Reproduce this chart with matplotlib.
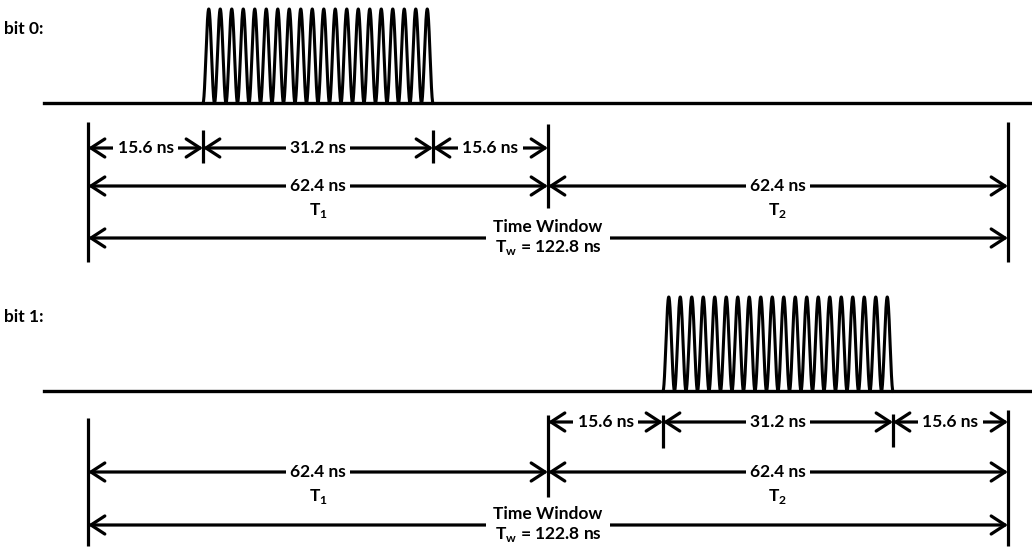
import numpy as np
import matplotlib.pyplot as plt

plt.rcParams['font.family'] = ['Lato', 'DejaVu Sans']
plt.rcParams['mathtext.fontset'] = 'custom'
plt.rcParams['mathtext.rm'] = 'Lato'
plt.rcParams['mathtext.bf'] = 'Lato:bold'

# timing values (ns)
guard_ns = 15.6
pulse_ns = 31.2
half_ns = [62.4, 62.4]
window_label = "122.8"
n_cycles = 20
bits = ["bit 0:", "bit 1:"]

# pixel scale used for horizontal placement: t=0 at x=88 px, 7.372 px per ns
px0, px_per_ns = 88.0, 460.0 / 62.4

fig = plt.figure(figsize=(10.32, 5.5), dpi=100)
ax = fig.add_axes([0, 0, 1, 1])
ax.set_xlim(-px0 / px_per_ns, (1032 - px0) / px_per_ns)
ax.set_ylim(550, 0)
ax.axis('off')

LW = 2.3
FS = 12.5
t_split = half_ns[0]
t_end = half_ns[0] + half_ns[1]

def dim(t0, t1, y, label, lx=None):
    ax.annotate('', xy=(t1, y), xytext=(t0, y),
                arrowprops=dict(arrowstyle='<->,head_length=1.0,head_width=0.65',
                                lw=LW, color='black', shrinkA=0, shrinkB=0,
                                mutation_scale=10))
    if label:
        cx = (t0 + t1) / 2 if lx is None else lx
        ax.text(cx, y, label, ha='center', va='center', fontsize=FS,
                fontweight='bold', zorder=5,
                bbox=dict(fc='white', ec='none', pad=3))

def vline(t, y0, y1):
    ax.plot([t, t], [y0, y1], color='black', lw=LW, solid_capstyle='butt')

def pulse(start, base, height):
    t = np.linspace(start, start + pulse_ns, 4000)
    y = base - height * (1 - np.cos(2 * np.pi * n_cycles * (t - start) / pulse_ns)) / 2
    ax.plot(t, y, color='black', lw=2.2)

layouts = [
    # baseline, row1, row2, T label, Tw arrow, pulse start
    dict(base=103, r1=148, r2=186, tl=211, tw=238, start=guard_ns,
         ticks=[(0, 122, 262), (t_split, 124, 208), (t_end, 122, 262),
                (guard_ns, 130, 163), (guard_ns + pulse_ns, 130, 163)]),
    dict(base=391, r1=422, r2=472, tl=497, tw=525, start=t_split + guard_ns,
         ticks=[(0, 418, 546), (t_split, 415, 497), (t_end, 410, 546),
                (t_split + guard_ns, 415, 448),
                (t_split + guard_ns + pulse_ns, 414, 447)]),
]

for k, (name, L) in enumerate(zip(bits, layouts)):
    ax.text(-84 / px_per_ns, L['base'] - 74, name, ha='left', va='center',
            fontsize=FS, fontweight='bold')
    ax.plot([-44 / px_per_ns, (1032 - px0) / px_per_ns], [L['base'], L['base']],
            color='black', lw=2.4)
    pulse(L['start'], L['base'], 94)

    for t, y0, y1 in L['ticks']:
        vline(t, y0, y1)

    # guard / pulse / guard segments
    s0 = 0 if k == 0 else t_split
    edges = np.cumsum([s0, guard_ns, pulse_ns, guard_ns])
    for a, b, d in zip(edges[:-1], edges[1:], [guard_ns, pulse_ns, guard_ns]):
        dim(a, b, L['r1'], f"{d} ns")

    # T1 / T2
    dim(0, t_split, L['r2'], f"{half_ns[0]} ns")
    dim(t_split, t_end, L['r2'], f"{half_ns[1]} ns")
    ax.text(t_split / 2, L['tl'], r'T$_\mathbf{1}$', ha='center', va='center',
            fontsize=FS, fontweight='bold')
    ax.text(t_split + half_ns[1] / 2, L['tl'], r'T$_\mathbf{2}$', ha='center',
            va='center', fontsize=FS, fontweight='bold')

    # full time window
    dim(0, t_end, L['tw'], None)
    ax.text(t_split, L['tw'], "Time Window\n" + r"T$_\mathbf{w}$ = " + window_label + " ns",
            ha='center', va='center', fontsize=FS, fontweight='bold',
            linespacing=1.25, zorder=5,
            bbox=dict(fc='white', ec='none', pad=5))

fig.savefig('out.png', dpi=100)
